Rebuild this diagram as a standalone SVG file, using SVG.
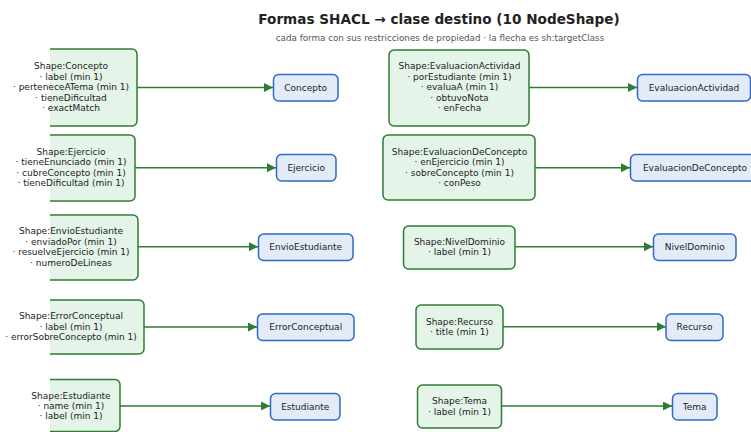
<svg xmlns="http://www.w3.org/2000/svg" width="751" height="432" viewBox="0 0 751 432">
<style>
text{font-family:"DejaVu Sans","Noto Sans",sans-serif;fill:#222}
.t{font-size:13.6px;font-weight:bold;text-anchor:middle}
.s{font-size:8.75px;fill:#555;text-anchor:middle}
.n{font-size:9px;text-anchor:middle;dominant-baseline:central}
.sf{fill:#e5f4e8;stroke:none}
.sb{fill:none;stroke:#2e7d32;stroke-width:1.5}
.sh{fill:#e5f4e8;stroke:#2e7d32;stroke-width:1.5}
.cl{fill:#e4ebf8;stroke:#2f6ac6;stroke-width:1.5}
.e{stroke:#2e7d32;stroke-width:1.5;fill:none;marker-end:url(#ah)}
</style>
<defs>
<marker id="ah" viewBox="0 0 10 10" refX="10" refY="5" markerWidth="6" markerHeight="6" markerUnits="strokeWidth" orient="auto">
<path d="M0,0 L10,5 L0,10 z" fill="#2e7d32"/>
</marker>
</defs>
<rect width="751" height="432" fill="#fff"/>
<text class="t" x="439" y="24">Formas SHACL → clase destino (10 NodeShape)</text>
<text class="s" x="440" y="41">cada forma con sus restricciones de propiedad · la flecha es sh:targetClass</text>

<g id="edges">
<line class="e" x1="137" y1="87.5" x2="273" y2="87.5"/>
<line class="e" x1="135" y1="167.7" x2="276" y2="167.7"/>
<line class="e" x1="138" y1="246.7" x2="258" y2="246.7"/>
<line class="e" x1="144" y1="327" x2="257" y2="327"/>
<line class="e" x1="120" y1="406" x2="270" y2="406"/>
<line class="e" x1="529" y1="87.5" x2="637" y2="87.5"/>
<line class="e" x1="535" y1="167.7" x2="630" y2="167.7"/>
<line class="e" x1="515" y1="246.7" x2="653" y2="246.7"/>
<line class="e" x1="503" y1="326.7" x2="666" y2="326.7"/>
<line class="e" x1="502" y1="406" x2="672" y2="406"/>
</g>

<g id="shape-concepto">
<rect class="sf" x="50" y="49" width="87" height="77" rx="5"/>
<rect class="sf" x="50" y="49" width="10" height="77"/>
<path class="sb" d="M50,49 H132 A5,5 0 0 1 137,54 V121 A5,5 0 0 1 132,126 H50"/>
<text class="n" x="71" y="66">Shape:Concepto</text>
<text class="n" x="71" y="76.5">· label (min 1)</text>
<text class="n" x="71" y="87">· perteneceATema (min 1)</text>
<text class="n" x="71" y="97.5">· tieneDificultad</text>
<text class="n" x="71" y="108">· exactMatch</text>
</g>
<g id="shape-ejercicio">
<rect class="sf" x="50" y="135" width="85" height="66" rx="5"/>
<rect class="sf" x="50" y="135" width="10" height="66"/>
<path class="sb" d="M50,135 H130 A5,5 0 0 1 135,140 V196 A5,5 0 0 1 130,201 H50"/>
<text class="n" x="71" y="151.5">Shape:Ejercicio</text>
<text class="n" x="71" y="162">· tieneEnunciado (min 1)</text>
<text class="n" x="71" y="172.5">· cubreConcepto (min 1)</text>
<text class="n" x="71" y="183">· tieneDificultad (min 1)</text>
</g>
<g id="shape-envio">
<rect class="sf" x="50" y="215" width="88" height="65" rx="5"/>
<rect class="sf" x="50" y="215" width="10" height="65"/>
<path class="sb" d="M50,215 H133 A5,5 0 0 1 138,220 V275 A5,5 0 0 1 133,280 H50"/>
<text class="n" x="71" y="231">Shape:EnvioEstudiante</text>
<text class="n" x="71" y="241.5">· enviadoPor (min 1)</text>
<text class="n" x="71" y="252">· resuelveEjercicio (min 1)</text>
<text class="n" x="71" y="262.5">· numeroDeLineas</text>
</g>
<g id="shape-error">
<rect class="sf" x="50" y="300" width="94" height="54" rx="5"/>
<rect class="sf" x="50" y="300" width="10" height="54"/>
<path class="sb" d="M50,300 H139 A5,5 0 0 1 144,305 V349 A5,5 0 0 1 139,354 H50"/>
<text class="n" x="71" y="316">Shape:ErrorConceptual</text>
<text class="n" x="71" y="326.5">· label (min 1)</text>
<text class="n" x="71" y="337">· errorSobreConcepto (min 1)</text>
</g>
<g id="shape-estudiante">
<rect class="sf" x="50" y="379.5" width="70" height="52" rx="5"/>
<rect class="sf" x="50" y="379.5" width="10" height="52"/>
<path class="sb" d="M50,379.5 H115 A5,5 0 0 1 120,384.5 V426.5 A5,5 0 0 1 115,431.5 H50"/>
<text class="n" x="71" y="395.5">Shape:Estudiante</text>
<text class="n" x="71" y="405.5">· name (min 1)</text>
<text class="n" x="71" y="416">· label (min 1)</text>
</g>

<g id="shape-evalact">
<rect class="sh" x="389" y="50" width="140" height="76" rx="5"/>
<text class="n" x="459.5" y="66">Shape:EvaluacionActividad</text>
<text class="n" x="459.5" y="76.5">· porEstudiante (min 1)</text>
<text class="n" x="459.5" y="87">· evaluaA (min 1)</text>
<text class="n" x="459.5" y="97.5">· obtuvoNota</text>
<text class="n" x="459.5" y="108">· enFecha</text>
</g>
<g id="shape-evalconc">
<rect class="sh" x="383" y="135" width="152" height="65" rx="5"/>
<text class="n" x="459.5" y="151.5">Shape:EvaluacionDeConcepto</text>
<text class="n" x="459.5" y="162">· enEjercicio (min 1)</text>
<text class="n" x="459.5" y="172.5">· sobreConcepto (min 1)</text>
<text class="n" x="459.5" y="183">· conPeso</text>
</g>
<g id="shape-nivel">
<rect class="sh" x="403.5" y="226" width="111.5" height="43" rx="5"/>
<text class="n" x="459.5" y="241.5">Shape:NivelDominio</text>
<text class="n" x="459.5" y="252">· label (min 1)</text>
</g>
<g id="shape-recurso">
<rect class="sh" x="416" y="305" width="87" height="44" rx="5"/>
<text class="n" x="459.5" y="321.5">Shape:Recurso</text>
<text class="n" x="459.5" y="332">· title (min 1)</text>
</g>
<g id="shape-tema">
<rect class="sh" x="417.5" y="385" width="84" height="43" rx="5"/>
<text class="n" x="459.5" y="401">Shape:Tema</text>
<text class="n" x="459.5" y="411.5">· label (min 1)</text>
</g>

<g id="class-concepto">
<rect class="cl" x="273.5" y="74.5" width="64.5" height="26.5" rx="5"/>
<text class="n" x="305.7" y="87.8">Concepto</text>
</g>
<g id="class-ejercicio">
<rect class="cl" x="276.5" y="154.5" width="59.5" height="26.5" rx="5"/>
<text class="n" x="306.2" y="167.8">Ejercicio</text>
</g>
<g id="class-envio">
<rect class="cl" x="258.5" y="234" width="94.5" height="26.5" rx="5"/>
<text class="n" x="305.7" y="247.3">EnvioEstudiante</text>
</g>
<g id="class-error">
<rect class="cl" x="257.5" y="314" width="96.5" height="26.5" rx="5"/>
<text class="n" x="305.7" y="327.3">ErrorConceptual</text>
</g>
<g id="class-estudiante">
<rect class="cl" x="270.5" y="393.5" width="69.5" height="26.5" rx="5"/>
<text class="n" x="305.2" y="406.8">Estudiante</text>
</g>
<g id="class-evalact">
<rect class="cl" x="637.5" y="74.5" width="113" height="26.5" rx="5"/>
<text class="n" x="694" y="87.8">EvaluacionActividad</text>
</g>
<g id="class-evalconc">
<rect class="cl" x="630.5" y="154.5" width="130" height="26.5" rx="5"/>
<text class="n" x="695" y="167.8">EvaluacionDeConcepto</text>
</g>
<g id="class-nivel">
<rect class="cl" x="653.5" y="234" width="82.5" height="26.5" rx="5"/>
<text class="n" x="694.7" y="247.3">NivelDominio</text>
</g>
<g id="class-recurso">
<rect class="cl" x="666" y="314" width="57" height="26.5" rx="5"/>
<text class="n" x="694.5" y="327.3">Recurso</text>
</g>
<g id="class-tema">
<rect class="cl" x="672.5" y="393.5" width="44.5" height="26.5" rx="5"/>
<text class="n" x="694.7" y="406.8">Tema</text>
</g>
</svg>
